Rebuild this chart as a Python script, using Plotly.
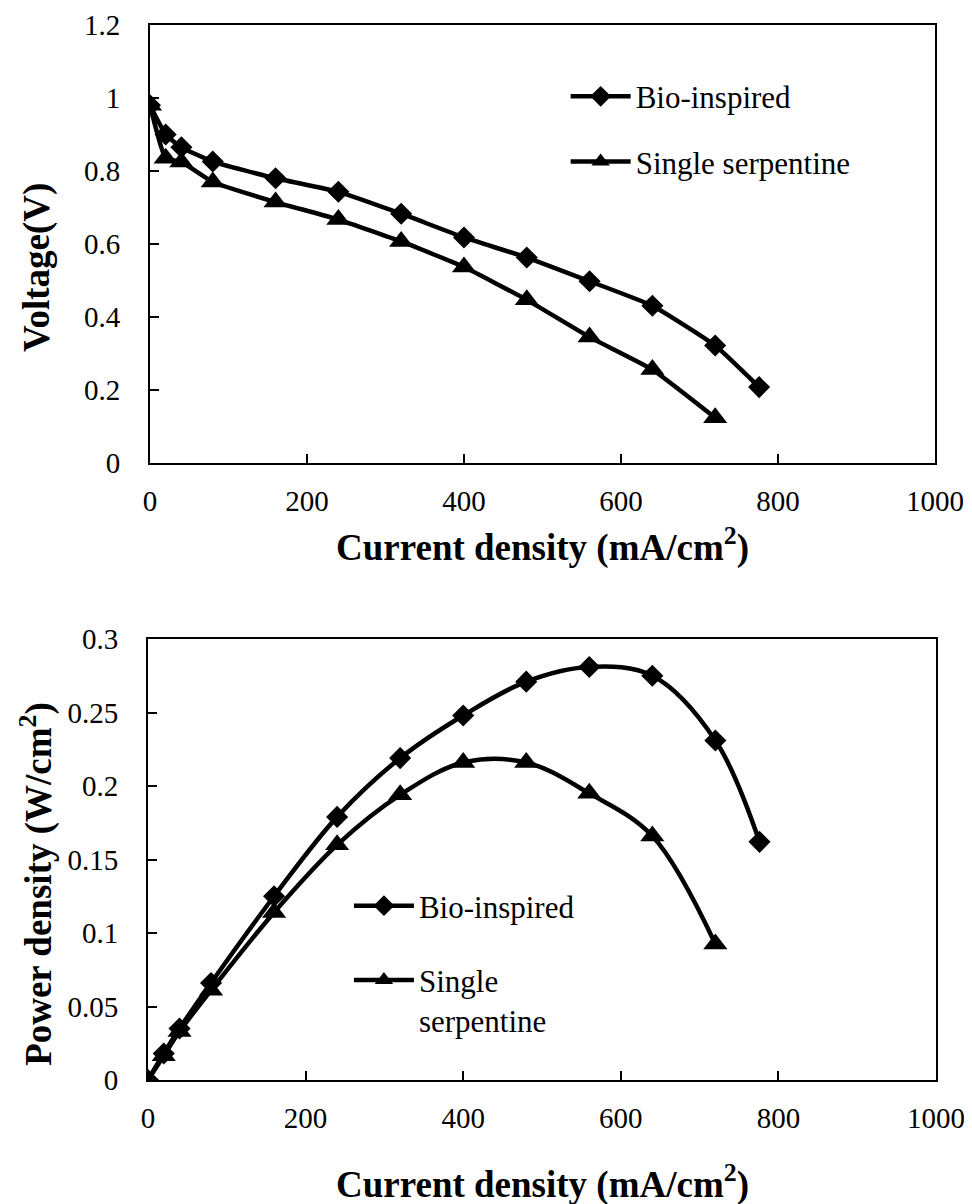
import plotly.graph_objects as go
from plotly.subplots import make_subplots

# datos
corriente_bio = [0, 20, 40, 80, 160, 240, 320, 400, 480, 560, 640, 720, 776]
voltaje_bio = [0.98, 0.90, 0.865, 0.826, 0.78, 0.743, 0.683, 0.618, 0.563, 0.498, 0.431, 0.322, 0.208]
corriente_serp = [0, 20, 40, 80, 160, 240, 320, 400, 480, 560, 640, 720]
voltaje_serp = [0.98, 0.835, 0.825, 0.77, 0.715, 0.667, 0.607, 0.537, 0.447, 0.345, 0.256, 0.124]

potencia_bio = [0, 0.018, 0.035, 0.066, 0.125, 0.179, 0.219, 0.248, 0.271, 0.281, 0.275, 0.231, 0.162]
potencia_serp = [0, 0.0165, 0.033, 0.061, 0.114, 0.16, 0.194, 0.216, 0.216, 0.195, 0.166, 0.0925]

nombres = ['Bio-inspired', 'Single serpentine']
nombres_abajo = ['Bio-inspired', 'Single<br>serpentine']

FUENTE = 'Liberation Serif'
NEGRO = '#000000'

fig = make_subplots(rows=2, cols=1)

# grafico de voltaje
fig.add_trace(go.Scatter(
    x=corriente_bio, y=voltaje_bio, name=nombres[0], mode='lines+markers',
    line=dict(color=NEGRO, width=4.5, shape='spline', smoothing=0.4),
    marker=dict(symbol='diamond', size=17, color=NEGRO),
    legend='legend', legendgroup='a'), row=1, col=1)
fig.add_trace(go.Scatter(
    x=corriente_serp, y=voltaje_serp, name=nombres[1], mode='lines+markers',
    line=dict(color=NEGRO, width=4.5, shape='spline', smoothing=0.4),
    marker=dict(symbol='triangle-up', size=21, color=NEGRO),
    legend='legend', legendgroup='b'), row=1, col=1)

# grafico de potencia
fig.add_trace(go.Scatter(
    x=corriente_bio, y=potencia_bio, name=nombres_abajo[0], mode='lines+markers',
    line=dict(color=NEGRO, width=4.5, shape='spline', smoothing=1.0),
    marker=dict(symbol='diamond', size=17, color=NEGRO),
    legend='legend2', legendgroup='c'), row=2, col=1)
fig.add_trace(go.Scatter(
    x=corriente_serp, y=potencia_serp, name=nombres_abajo[1], mode='lines+markers',
    line=dict(color=NEGRO, width=4.5, shape='spline', smoothing=1.0),
    marker=dict(symbol='triangle-up', size=21, color=NEGRO),
    legend='legend2', legendgroup='d'), row=2, col=1)

ejes = dict(
    showline=True, linecolor=NEGRO, linewidth=2, mirror=True,
    ticks='inside', ticklen=9, tickwidth=2, tickcolor=NEGRO,
    showgrid=False, zeroline=False, automargin=False,
    tickfont=dict(family=FUENTE, size=29, color=NEGRO),
)

fig.update_xaxes(range=[0, 1000], dtick=200, ticklabelstandoff=11, **ejes)
fig.update_yaxes(ticklabelstandoff=22, **ejes)
fig.update_xaxes(domain=[0.0025, 0.9987], row=1, col=1)
fig.update_xaxes(domain=[0, 1], row=2, col=1)
fig.update_yaxes(range=[0, 1.2], dtick=0.2, domain=[0.5848, 1], row=1, col=1)
fig.update_yaxes(range=[0, 0.3], dtick=0.05, domain=[0, 0.418], row=2, col=1)

titulo_font = dict(family=FUENTE, size=37, color=NEGRO)
fig.add_annotation(text='<b>Current density (mA/cm<sup>2</sup>)</b>', xref='paper', yref='paper',
                   x=0.5, y=0.5071, xanchor='center', yanchor='middle', showarrow=False, font=titulo_font)
fig.add_annotation(text='<b>Current density (mA/cm<sup>2</sup>)</b>', xref='paper', yref='paper',
                   x=0.5, y=-0.0967, xanchor='center', yanchor='middle', showarrow=False, font=titulo_font)
fig.add_annotation(text='<b>Voltage(V)</b>', xref='paper', yref='paper', textangle=-90,
                   x=-0.141, y=0.7706, xanchor='center', yanchor='middle', showarrow=False, font=titulo_font)
fig.add_annotation(text='<b>Power density (W/cm<sup>2</sup>)</b>', xref='paper', yref='paper', textangle=-90,
                   x=-0.141, y=0.1858, xanchor='center', yanchor='middle', showarrow=False, font=titulo_font)

leyenda = dict(font=dict(family=FUENTE, size=31, color=NEGRO), bgcolor='rgba(0,0,0,0)',
               borderwidth=0, itemwidth=60, traceorder='grouped',
               valign='top', xanchor='left', yanchor='top')

# la pagina html deja 8 px de borde, por eso los margenes corridos
fig.update_layout(
    width=972, height=1204,
    margin=dict(l=140, r=44, t=17, b=132),
    plot_bgcolor='white', paper_bgcolor='white',
    legend=dict(x=0.53, y=0.9577, tracegroupgap=22, **leyenda),
    legend2=dict(x=0.255, y=0.1905, tracegroupgap=31, **leyenda),
)

fig.write_html('out.html')
